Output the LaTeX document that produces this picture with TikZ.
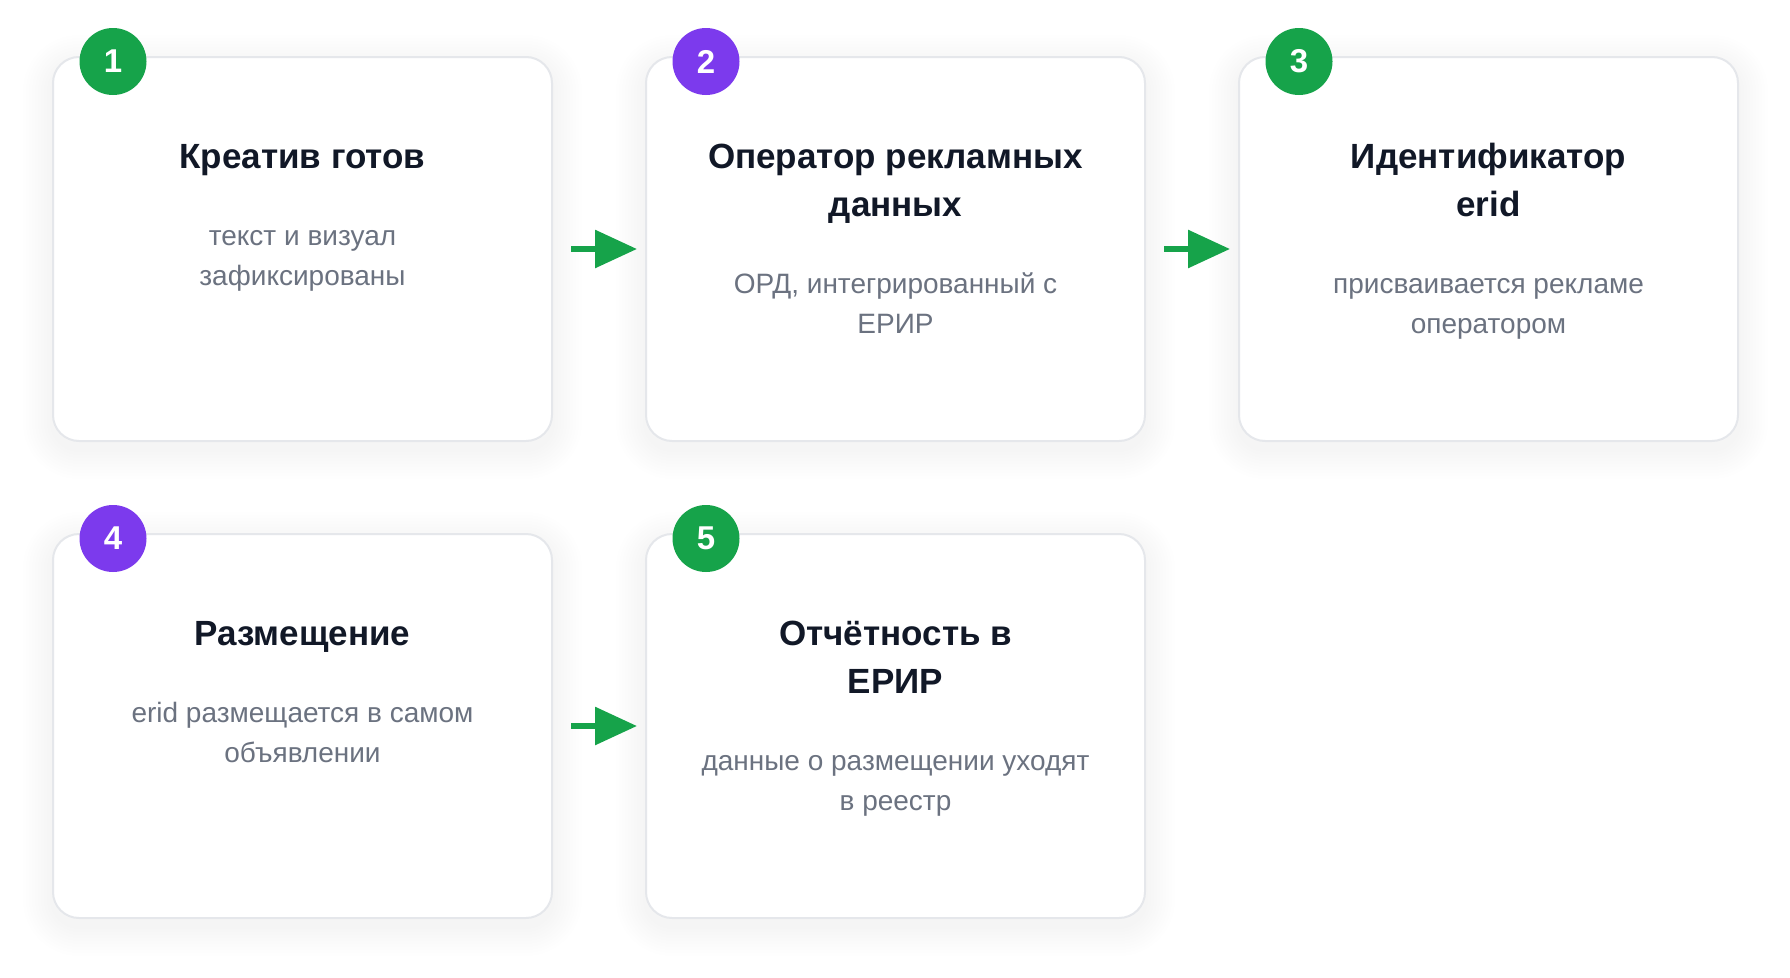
\documentclass[tikz,border=0pt]{standalone}
\usepackage{fontspec}
\setmainfont{Liberation Sans}
\usetikzlibrary{positioning,arrows.meta,backgrounds}
\definecolor{inkdark}{HTML}{111827}
\definecolor{inkgrey}{HTML}{6B7280}
\definecolor{cardline}{HTML}{E5E7EB}
\definecolor{stepgreen}{HTML}{16A34A}
\definecolor{steppurple}{HTML}{7C3AED}

\begin{document}
\begin{tikzpicture}[x=1pt,y=1pt,
    card/.style={rectangle,draw=cardline,line width=2pt,fill=white,rounded corners=26pt,
        minimum width=499pt,minimum height=384pt,inner sep=0pt,outer sep=0pt},
    badge/.style={circle,fill=#1,text=white,minimum size=67pt,inner sep=0pt,
        font=\fontsize{33}{38}\selectfont\bfseries},
    head/.style={align=center,inner sep=0pt,text=inkdark,font=\fontsize{35}{48}\selectfont\bfseries,
        execute at end node=\strut},
    note/.style={align=center,inner sep=0pt,text=inkgrey,font=\fontsize{28}{40}\selectfont},
    flow/.style={-{Triangle[length=42pt,width=37pt]},line width=6pt,draw=stepgreen,
        shorten <=19pt,shorten >=9pt}]
    \useasboundingbox (0,0) rectangle (1790,-977);

    % Cards
    \node[card] (c1) at (302.5,-249) {};
    \node[card] (c2) at (895.5,-249) {};
    \node[card] (c3) at (1488.5,-249) {};
    \node[card] (c4) at (302.5,-726) {};
    \node[card] (c5) at (895.5,-726) {};

    % Soft shadows
    \begin{pgfonlayer}{background}
        \foreach \i in {1,...,5}
            \foreach \s in {3,6,...,30}
                \fill[black,opacity=0.005,rounded corners={(26+\s)*1pt}]
                    ([shift={(-\s,\s-8)}]c\i.north west) rectangle ([shift={(\s,-\s-8)}]c\i.south east);
    \end{pgfonlayer}

    % Step numbers
    \node[badge=stepgreen] (n1) at ([xshift=60pt,yshift=-4.5pt]c1.north west) {1};
    \node[badge=steppurple] (n2) at ([xshift=60pt,yshift=-4.5pt]c2.north west) {2};
    \node[badge=stepgreen] (n3) at ([xshift=60pt,yshift=-4.5pt]c3.north west) {3};
    \node[badge=steppurple] (n4) at ([xshift=60pt,yshift=-4.5pt]c4.north west) {4};
    \node[badge=stepgreen] (n5) at ([xshift=60pt,yshift=-4.5pt]c5.north west) {5};

    % Titles and notes
    \node[head,below=77.4pt of c1.north] (t1) {\strut Креатив готов};
    \node[note,below=34.6pt of t1] (d1) {\strut текст и визуал\\зафиксированы};
    \node[head,below=77.4pt of c2.north] (t2) {\strut Оператор рекламных\\данных};
    \node[note,below=34.6pt of t2] (d2) {\strut ОРД, интегрированный с\\ЕРИР};
    \node[head,below=77.4pt of c3.north] (t3) {\strut Идентификатор\\erid};
    \node[note,below=34.6pt of t3] (d3) {\strut присваивается рекламе\\оператором};
    \node[head,below=77.4pt of c4.north] (t4) {\strut Размещение};
    \node[note,below=34.6pt of t4] (d4) {\strut erid размещается в самом\\объявлении};
    \node[head,below=77.4pt of c5.north] (t5) {\strut Отчётность в\\ЕРИР};
    \node[note,below=34.6pt of t5] (d5) {\strut данные о размещении уходят\\в реестр};

    % Arrows
    \draw[flow] (c1) -- (c2);
    \draw[flow] (c2) -- (c3);
    \draw[flow] (c4) -- (c5);
\end{tikzpicture}
\end{document}
